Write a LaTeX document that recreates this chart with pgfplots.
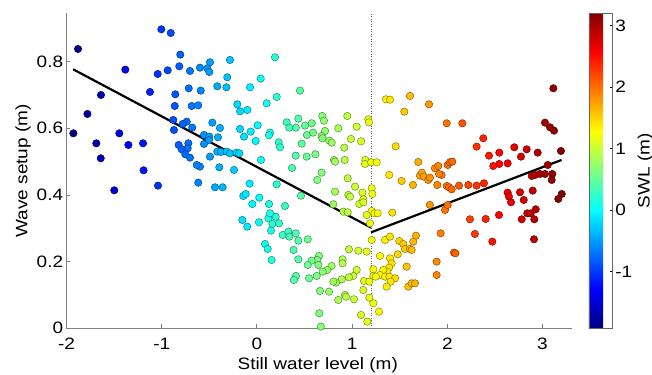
\documentclass[border=0pt]{standalone}
\usepackage{fontspec}
\setmainfont{Liberation Sans}[FakeStretch=1.15]
\usepackage{pgfplots}
\pgfplotsset{compat=1.18}
\usepackage{pgfplotstable}
\pgfplotsset{/pgf/number format/assume math mode=true}

\pgfplotstableread{
x y
-1.879 0.838
-1.928 0.585
-1.780 0.643
-1.638 0.700
-1.687 0.555
-1.640 0.510
-1.382 0.776
-1.445 0.585
-1.350 0.550
-1.196 0.555
-1.190 0.474
-1.498 0.414
-1.123 0.709
-1.042 0.763
-1.004 0.897
-0.905 0.886
-0.937 0.774
-1.039 0.428
-0.805 0.821
-0.815 0.786
-0.703 0.772
-0.857 0.702
-0.863 0.667
-0.716 0.720
-0.590 0.713
-0.685 0.667
-0.616 0.669
-0.878 0.625
-0.737 0.620
-0.871 0.595
-0.780 0.613
-0.679 0.602
-0.598 0.782
-0.493 0.798
-0.521 0.780
-0.500 0.769
-0.416 0.726
-0.283 0.805
-0.311 0.753
-0.320 0.723
-0.468 0.617
-0.388 0.601
-0.556 0.580
-0.500 0.575
-0.503 0.565
-0.409 0.573
-0.822 0.550
-0.720 0.555
-0.727 0.540
-0.790 0.537
-0.556 0.553
-0.752 0.522
-0.703 0.512
-0.598 0.485
-0.632 0.490
-0.493 0.515
-0.416 0.530
-0.377 0.529
-0.317 0.530
-0.283 0.525
-0.212 0.527
-0.185 0.525
-0.395 0.483
-0.240 0.475
-0.177 0.598
-0.206 0.672
-0.177 0.651
-0.100 0.655
-0.135 0.575
-0.065 0.590
0.008 0.609
-0.013 0.562
-0.072 0.723
0.040 0.749
0.190 0.813
0.103 0.675
0.208 0.694
0.138 0.587
0.127 0.579
0.229 0.558
0.243 0.543
0.043 0.505
-0.076 0.434
0.208 0.432
0.369 0.481
0.453 0.713
0.313 0.618
0.340 0.602
0.410 0.602
0.435 0.629
0.505 0.608
0.408 0.518
0.523 0.515
0.614 0.522
0.470 0.554
0.526 0.580
0.589 0.587
0.634 0.445
0.680 0.467
0.576 0.615
0.687 0.637
0.705 0.623
0.716 0.592
0.680 0.577
0.687 0.570
0.760 0.563
0.786 0.557
0.810 0.505
0.821 0.500
0.950 0.637
0.855 0.600
1.048 0.605
0.988 0.568
1.094 0.561
0.918 0.542
0.922 0.505
1.170 0.627
1.177 0.618
1.139 0.505
1.136 0.493
1.200 0.498
1.258 0.498
1.356 0.687
1.398 0.686
1.608 0.697
1.548 0.650
1.808 0.672
1.458 0.546
1.695 0.499
1.994 0.615
2.158 0.615
3.114 0.720
3.026 0.617
3.079 0.603
3.121 0.593
2.378 0.570
2.308 0.545
2.704 0.543
2.834 0.537
2.774 0.515
2.950 0.527
3.194 0.532
2.438 0.518
2.546 0.527
2.546 0.493
2.483 0.487
2.634 0.495
3.055 0.490
1.390 0.460
1.520 0.442
1.639 0.430
1.713 0.458
1.734 0.467
1.752 0.455
1.800 0.445
1.818 0.452
1.870 0.480
1.905 0.487
1.940 0.460
1.913 0.463
1.895 0.430
2.004 0.490
2.028 0.498
2.052 0.500
1.994 0.427
2.018 0.423
2.046 0.417
2.123 0.428
2.221 0.430
2.308 0.428
2.385 0.435
2.887 0.457
2.921 0.460
2.974 0.463
3.026 0.463
3.103 0.463
3.097 0.445
2.634 0.407
2.648 0.395
2.669 0.378
2.764 0.408
2.803 0.385
2.897 0.413
2.840 0.345
2.876 0.345
2.929 0.357
2.782 0.327
2.914 0.327
2.911 0.267
3.202 0.403
3.166 0.388
2.543 0.340
2.403 0.328
2.238 0.327
2.290 0.283
2.473 0.260
1.976 0.355
2.004 0.370
1.817 0.370
1.930 0.285
2.070 0.227
2.085 0.225
1.888 0.200
1.888 0.160
0.954 0.450
1.031 0.425
1.108 0.407
1.118 0.387
0.960 0.400
0.978 0.395
1.076 0.373
1.118 0.378
0.820 0.410
0.803 0.372
0.908 0.350
0.954 0.348
1.206 0.420
1.213 0.403
1.206 0.352
1.234 0.345
1.269 0.345
1.153 0.340
1.188 0.315
1.422 0.347
1.206 0.265
1.346 0.265
1.398 0.275
1.496 0.262
1.538 0.253
1.643 0.260
1.671 0.278
1.556 0.238
1.608 0.238
1.626 0.235
1.479 0.222
0.967 0.237
1.065 0.233
1.153 0.230
1.293 0.217
0.900 0.207
0.900 0.195
0.652 0.217
0.634 0.205
0.575 0.203
0.645 0.190
0.785 0.187
0.739 0.175
0.691 0.170
0.628 0.157
1.398 0.210
1.416 0.195
1.388 0.182
1.370 0.170
1.328 0.175
1.293 0.160
1.346 0.155
1.391 0.155
1.451 0.150
1.405 0.140
1.363 0.125
1.573 0.185
1.590 0.125
1.626 0.135
1.661 0.135
1.223 0.177
1.223 0.157
1.125 0.142
1.181 0.140
1.248 0.155
1.118 0.115
1.048 0.175
1.013 0.157
0.967 0.153
0.891 0.147
0.831 0.137
0.925 0.100
0.936 0.095
1.020 0.087
0.855 0.085
0.803 0.140
0.663 0.112
0.757 0.110
1.223 0.075
1.283 0.050
1.181 0.092
1.094 0.040
1.160 0.020
0.656 0.045
0.671 0.005
-0.616 0.437
-0.440 0.423
-0.360 0.423
-0.143 0.397
-0.118 0.403
0.025 0.392
-0.048 0.373
0.127 0.373
0.295 0.367
0.463 0.398
-0.153 0.325
-0.101 0.305
0.022 0.318
0.120 0.330
0.197 0.335
0.138 0.345
0.162 0.313
0.232 0.315
0.148 0.293
0.271 0.280
0.330 0.290
0.340 0.275
0.408 0.285
0.435 0.263
0.534 0.267
0.085 0.253
0.113 0.238
0.385 0.235
0.155 0.205
0.435 0.207
0.534 0.190
0.410 0.157
0.389 0.145
0.548 0.150
}\swldata

\begin{document}
\fontsize{16.5bp}{19.8bp}\selectfont
\begin{tikzpicture}
\useasboundingbox (-66.5bp,-46.7bp) rectangle (585.5bp,328.3bp);
\begin{axis}[
  at={(0,0)}, anchor=south west,
  scale only axis, width=505.5bp, height=315bp,
  xmin=-2, xmax=3.31, ymin=0, ymax=0.945,
  axis x line*=bottom, axis y line*=left,
  axis line style={draw=black!50, line width=0.8bp},
  xtick={-2,-1,0,1,2,3},
  ytick={0,0.2,0.4,0.6,0.8},
  tick align=inside, major tick length=4bp,
  tick style={black!50, line width=0.8bp},
  xticklabel style={anchor=base, inner sep=0pt, yshift=-21bp},
  yticklabel style={anchor=east, inner sep=0pt, xshift=-3.2bp},
  xlabel={Still water level (m)},
  ylabel={Wave setup (m)},
  every axis x label/.style={at={(axis description cs:0.497,0)}, anchor=base, inner sep=0pt, yshift=-40.7bp},
  every axis y label/.style={at={(axis description cs:-0.0702,0.5)}, rotate=90, anchor=south, inner sep=0pt},
  colormap/jet,
  point meta min=-1.92, point meta max=3.2,
  colorbar,
  colorbar style={
    at={(1.0336,1)}, anchor=north west,
    width=23.7bp,
    ytick={-1,0,1,2,3},
    yticklabel pos=right,
    ytick pos=right,
    tick align=inside,
    major tick length=3bp,
    tick style={black, line width=0.5bp},
    axis line style={draw=black!60, line width=0.5bp},
    yticklabel style={anchor=west, inner sep=0pt, xshift=2.5bp},
    ylabel={SWL (m)},
    every axis y label/.style={at={(axis description cs:2.05,0.5)}, rotate=90, anchor=north, inner sep=0pt},
  },
]
\addplot[scatter, only marks, mark=*, mark size=3.7bp,
  scatter/use mapped color={draw=mapped color!55!black, fill=mapped color, line width=0.5bp},
  point meta=x] table[x=x, y=y] {\swldata};
\addplot[black!60, dotted, line width=0.5bp, no marks] coordinates {(1.2,0) (1.2,0.945)};
\addplot[black, line width=2.2bp, no marks] coordinates {(-1.93,0.777) (1.2,0.302)};
\addplot[black, line width=2.2bp, no marks] coordinates {(1.2,0.288) (3.2,0.505)};
\end{axis}
\end{tikzpicture}
\end{document}
